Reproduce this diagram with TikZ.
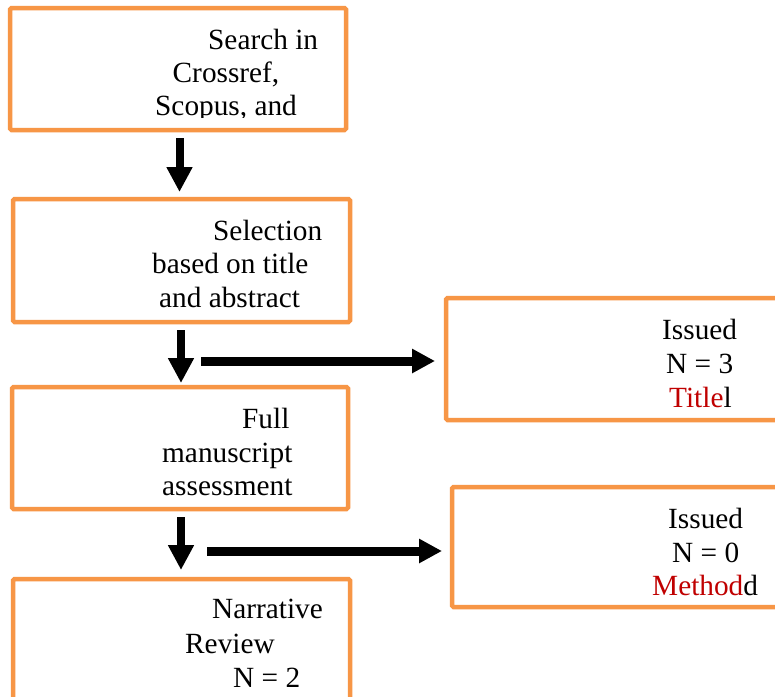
\documentclass[tikz,border=0pt]{standalone}
\usepackage{fontspec}
\setmainfont{Liberation Serif}
\usetikzlibrary{arrows.meta}
\definecolor{boxorange}{HTML}{F79646}
\definecolor{txtred}{HTML}{C00000}
\begin{document}
\begin{tikzpicture}[x=1pt,y=-1pt,
  box/.style={draw=boxorange,line width=4.5pt,rounded corners=1.5pt,fill=none},
  txt/.style={anchor=base west,inner sep=0pt,font=\fontsize{29.3}{33}\selectfont},
  downarrow/.style={line width=8pt,-{Triangle[width=24.5pt,length=25pt]}},
  rightarrow/.style={line width=9pt,-{Triangle[width=23pt,length=23pt]}}]
\clip (0,0) rectangle (775,696);
\fill[white] (0,0) rectangle (775,696);
% boxes
\draw[box] (10,8) rectangle (346,130);
\node[inner sep=0pt] (b1) at (178,69) {};
\draw[box] (13,199) rectangle (350,322);
\node[inner sep=0pt] (b2) at (181,260) {};
\draw[box] (446,298) rectangle (800,420);
\node[inner sep=0pt] (b3) at (620,359) {};
\draw[box] (12,387) rectangle (348,509);
\node[inner sep=0pt] (b4) at (180,448) {};
\draw[box] (452,487) rectangle (800,607);
\node[inner sep=0pt] (b5) at (626,547) {};
\draw[box] (13,579) rectangle (350,730);
\node[inner sep=0pt] (b6) at (181,650) {};
% texts box 1 (clipped like the original text box)
\begin{scope}
\clip (12,10) rectangle (344,117);
\node[txt] (t1a) at (208,49) {Search in};
\node[txt] (t1b) at (172.5,82) {Crossref,};
\node[txt] (t1c) at (155,115) {Scopus, and};
\end{scope}
% box 2
\node[txt] (t2a) at (213,240) {Selection};
\node[txt] (t2b) at (152,273) {based on title};
\node[txt] (t2c) at (159,307) {and abstract};
% box 3
\node[txt] (t3a) at (662,339) {Issued};
\node[txt] (t3b) at (666,373) {N = 3};
\node[txt] (t3c) at (669,407) {\textcolor{txtred}{Title}l};
% box 4
\node[txt] (t4a) at (242,428) {Full};
\node[txt] (t4b) at (162,462) {manuscript};
\node[txt] (t4c) at (162,495) {assessment};
% box 5
\node[txt] (t5a) at (668,528) {Issued};
\node[txt] (t5b) at (672,562) {N = 0};
\node[txt] (t5c) at (652,595) {\textcolor{txtred}{Method}d};
% box 6
\node[txt] (t6a) at (212,618) {Narrative};
\node[txt] (t6b) at (185,653) {Review};
\node[txt] (t6c) at (233,687) {N = 2};
% arrow coordinates
\coordinate (a1s) at (179.5,138);
\coordinate (a1e) at (179.5,192);
\coordinate (a2s) at (181,330);
\coordinate (a2e) at (181,383);
\coordinate (h1s) at (201,361);
\coordinate (h1e) at (435,361);
\coordinate (a3s) at (181,517);
\coordinate (a3e) at (181,570);
\coordinate (h2s) at (207,551);
\coordinate (h2e) at (442,551);
\draw[downarrow] (a1s) -- (a1e);
\draw[downarrow] (a2s) -- (a2e);
\draw[rightarrow] (h1s) -- (h1e);
\draw[downarrow] (a3s) -- (a3e);
\draw[rightarrow] (h2s) -- (h2e);
\end{tikzpicture}
\end{document}
